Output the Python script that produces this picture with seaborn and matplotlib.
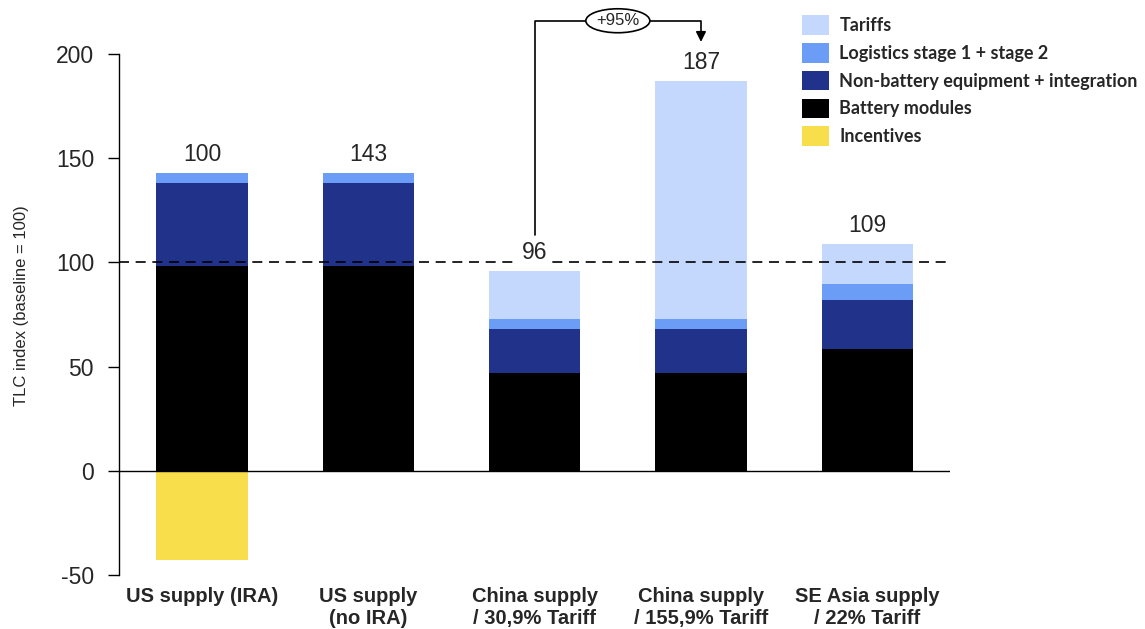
import matplotlib
matplotlib.use("Agg")
import matplotlib.pyplot as plt
from matplotlib.patches import Patch, Ellipse
import seaborn as sns
import numpy as np
import pandas as pd

categories = ["US supply (IRA)", "US supply\n(no IRA)", "China supply\n/ 30,9% Tariff",
              "China supply\n/ 155,9% Tariff", "SE Asia supply\n/ 22% Tariff"]
battery = [98.5, 98.5, 47, 47, 58.5]
non_battery = [39.5, 39.5, 21, 21, 23.5]
logistics = [5, 5, 5, 5, 7.5]
tariffs = [0, 0, 23, 114, 19.5]
incentives = [-43, 0, 0, 0, 0]
total_labels = ["100", "143", "96", "187", "109"]
series_names = ["Tariffs", "Logistics stage 1 + stage 2", "Non-battery equipment + integration",
                "Battery modules", "Incentives"]
colors = ["#C4D7FC", "#6B9CF6", "#21328A", "#000000", "#F7DE4A"]

sns.set_theme(style="white")
plt.rcParams['font.family'] = ['Liberation Sans', 'DejaVu Sans']

fig = plt.figure(figsize=(11.45, 6.29), dpi=100)
ax = fig.add_axes([0.104, 0.086, 0.726, 0.828])

b = np.array(battery); nb = np.array(non_battery); lg = np.array(logistics); tf = np.array(tariffs)
layers = [b + nb + lg + tf, b + nb + lg, b + nb, b, np.array(incentives)]
for vals, col in zip(layers, colors):
    df = pd.DataFrame({"cat": categories, "val": vals})
    sns.barplot(data=df, x="cat", y="val", color=col, saturation=1, width=0.55,
                ax=ax, linewidth=0, errorbar=None)

ax.set_xlim(-0.5, 4.5)
ax.set_ylim(-50, 200)
ax.set_yticks([-50, 0, 50, 100, 150, 200])
ax.set_yticklabels(["-50", "0", "50", "100", "150", "200"], fontsize=16.5)
ax.tick_params(axis='y', length=8, width=1, color='black', left=True, pad=10)
ax.tick_params(axis='x', length=0, pad=9)
for lab in ax.get_xticklabels():
    lab.set_fontweight('bold')
    lab.set_fontsize(14.5)
    lab.set_linespacing(1.15)
ax.set_xlabel("")
ax.set_ylabel("TLC index (baseline = 100)", fontsize=12)
ax.yaxis.set_label_coords(-0.108, 0.518)
for s in ["top", "right", "bottom"]:
    ax.spines[s].set_visible(False)
ax.spines["left"].set_color("black")
ax.spines["left"].set_linewidth(1)

ax.axhline(0, color="black", lw=1, zorder=3)
ax.axhline(100, color="black", lw=1.2, ls=(0, (6, 4)), zorder=3)

totals = layers[0]
for i, (t, lab) in enumerate(zip(totals, total_labels)):
    kw = {}
    if i == 2:
        kw = dict(bbox=dict(boxstyle="square,pad=0.15", fc="white", ec="none"))
    ax.annotate(lab, (i, t), xytext=(0, 5), textcoords="offset points",
                ha="center", va="bottom", fontsize=16.5, zorder=5, **kw)

# connector +95%
ax.plot([2, 2, 3, 3], [113, 216, 216, 210], color="black", lw=1.2, clip_on=False, zorder=4)
ax.annotate("", xy=(3, 204.5), xytext=(3, 211),
            arrowprops=dict(arrowstyle="-|>", color="black", lw=1.2, mutation_scale=15),
            annotation_clip=False)
ax.add_patch(Ellipse((2.5, 216), 0.385, 11.5, facecolor="white", edgecolor="black",
                     lw=1.2, clip_on=False, zorder=5))
ax.text(2.5, 216, "+95%", ha="center", va="center", fontsize=12, zorder=6, clip_on=False)

handles = [Patch(facecolor=c, edgecolor="none") for c in colors]
leg = fig.legend(handles, series_names, loc="upper left", bbox_to_anchor=(0.7, 0.976),
                 frameon=False, borderpad=0, borderaxespad=0, handlelength=1.55,
                 handleheight=1.3, handletextpad=0.55, labelspacing=0.45,
                 prop={"family": "Lato", "weight": "bold", "size": 13})

fig.savefig("out.png", dpi=100)
